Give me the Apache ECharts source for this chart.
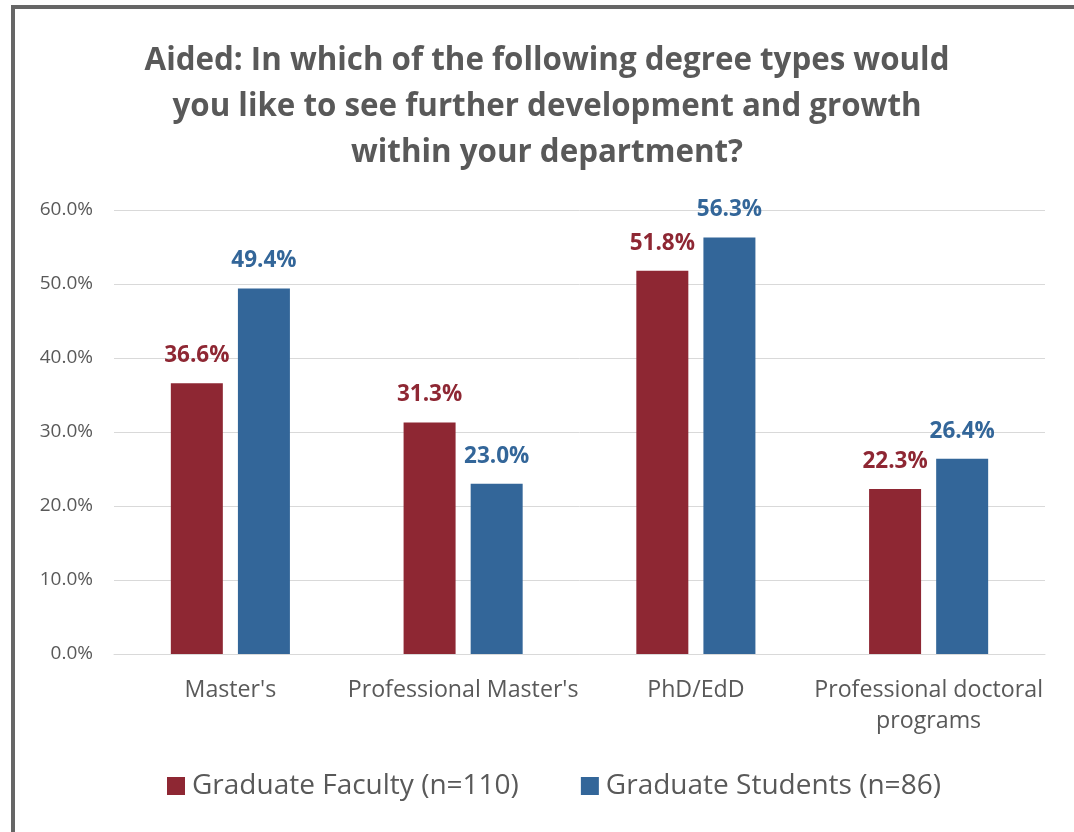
<!DOCTYPE html>
<html>
<head>
<meta charset="utf-8">
<script src="https://cdn.jsdelivr.net/npm/echarts@6/dist/echarts.min.js"></script>
<style>
html,body{margin:0;padding:0;background:#fff;}
#chart{width:1074px;height:832px;}
</style>
</head>
<body>
<div id="chart"></div>
<script>
const categories = ["Master's", "Professional Master's", "PhD/EdD", "Professional doctoral\nprograms"];
const facultyValues = [36.6, 31.3, 51.8, 22.3];
const studentValues = [49.4, 23.0, 56.3, 26.4];
const seriesNames = ["Graduate Faculty (n=110)", "Graduate Students (n=86)"];
const titleText = "Aided: In which of the following degree types would\nyou like to see further development and growth\nwithin your department?";

const FONT = "'Open Sans', 'Liberation Sans', sans-serif";
const RED = '#8E2733';
const BLUE = '#336699';
const GREY = '#595959';

const pct = v => v.toFixed(1) + '%';

const chart = echarts.init(document.getElementById('chart'));
chart.setOption({
  animation: false,
  backgroundColor: '#fff',
  graphic: [{
    type: 'rect',
    shape: { x: 13, y: 7, width: 1200, height: 1000 },
    style: { fill: 'none', stroke: '#666', lineWidth: 4 },
    silent: true
  }],
  title: {
    text: titleText,
    left: 542, top: 33, textAlign: 'center',
    textStyle: { fontFamily: FONT, fontSize: 31.3, fontWeight: 'bold', color: GREY, lineHeight: 46 }
  },
  legend: {
    data: seriesNames,
    top: 767, left: 162,
    itemWidth: 18, itemHeight: 18, itemGap: 62,
    icon: 'rect',
    textStyle: { fontFamily: FONT, fontSize: 28, color: GREY, padding: [0, 0, 0, 2] }
  },
  grid: { left: 114, right: 29, top: 210, bottom: 178, containLabel: false },
  xAxis: {
    type: 'category',
    data: categories,
    axisLine: { lineStyle: { color: '#d9d9d9', width: 1 } },
    axisTick: { show: false },
    axisLabel: { fontFamily: FONT, fontSize: 23.2, color: GREY, margin: 21, lineHeight: 31, interval: 0 }
  },
  yAxis: {
    type: 'value', min: 0, max: 60, interval: 10,
    axisLine: { show: false }, axisTick: { show: false },
    splitLine: { lineStyle: { color: '#d9d9d9', width: 1 } },
    axisLabel: { fontFamily: FONT, fontSize: 19, color: GREY, margin: 21, formatter: pct }
  },
  series: [
    { name: seriesNames[0], type: 'bar', data: facultyValues, barWidth: 52, barGap: '29%',
      itemStyle: { color: RED },
      label: { show: true, position: 'top', distance: 16, fontFamily: FONT, fontSize: 22.5, fontWeight: 'bold', color: RED,
        formatter: p => pct(p.value) } },
    { name: seriesNames[1], type: 'bar', data: studentValues, barWidth: 52,
      itemStyle: { color: BLUE },
      label: { show: true, position: 'top', distance: 16, fontFamily: FONT, fontSize: 22.5, fontWeight: 'bold', color: BLUE,
        formatter: p => pct(p.value) } }
  ]
});
</script>
</body>
</html>
